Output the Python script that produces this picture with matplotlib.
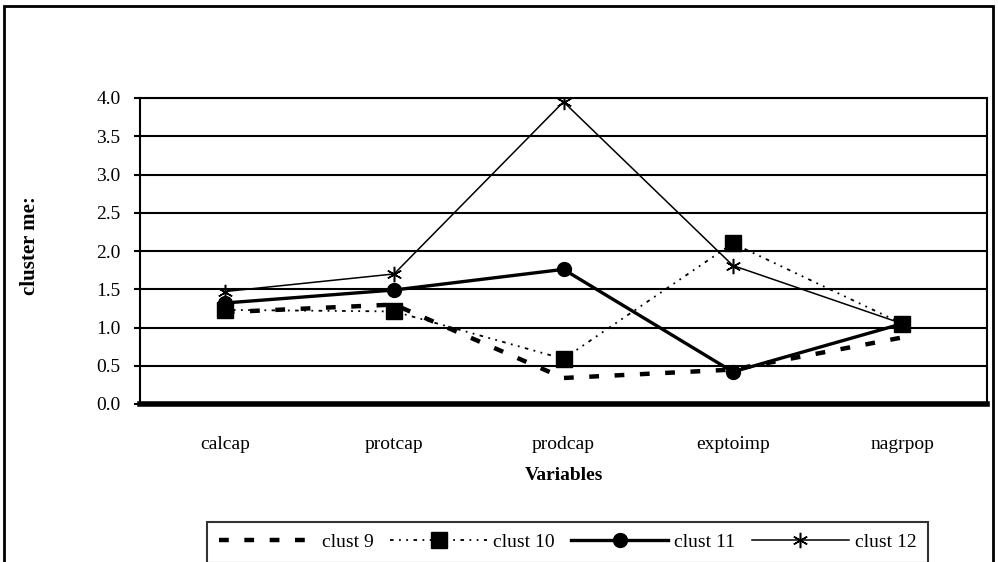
import matplotlib
matplotlib.use("Agg")
import matplotlib.pyplot as plt
from matplotlib.patches import Rectangle

plt.rcParams['font.family'] = ['Liberation Serif', 'DejaVu Serif']

variables = ["calcap", "protcap", "prodcap", "exptoimp", "nagrpop"]
clust9 = [1.20, 1.30, 0.34, 0.45, 0.87]
clust10 = [1.23, 1.21, 0.59, 2.10, 1.05]
clust11 = [1.32, 1.49, 1.76, 0.42, 1.05]
clust12 = [1.47, 1.70, 3.95, 1.81, 1.05]
yticks = [0.0, 0.5, 1.0, 1.5, 2.0, 2.5, 3.0, 3.5, 4.0]

W, H = 998, 562
FS = 14
fig = plt.figure(figsize=(W / 100, H / 100), dpi=100)
ax = fig.add_axes([140 / W, 1 - 404 / H, 847 / W, 306 / H])

x = list(range(len(variables)))
ax.plot(x, clust9, color='black', lw=3.2, linestyle=(0, (2.2, 3.5)), label='clust 9', zorder=3)
ax.plot(x, clust10, color='black', lw=1.3, linestyle=(0, (2, 3, 1, 3, 1, 3)),
        marker='s', ms=11, mec='black', mfc='black', label='clust 10', zorder=3)
ax.plot(x, clust11, color='black', lw=2.4, marker='o', ms=10, label='clust 11', zorder=4)
ax.plot(x, clust12, color='black', lw=1.1, marker=(6, 2, 0), ms=11, mew=1.1,
        label='clust 12', zorder=5)

ax.set_xlim(-0.5, 4.5)
ax.set_ylim(0, 4.0)
ax.set_yticks(yticks)
ax.set_yticklabels([f"{v:.1f}" for v in yticks])
ax.set_xticks(x)
ax.set_xticklabels(variables)
ax.tick_params(axis='x', length=0, pad=23, labelsize=FS)
ax.tick_params(axis='y', length=4, width=1.5, pad=10, labelsize=FS, direction='out')
ax.yaxis.grid(True, color='black', lw=1.5)
ax.set_axisbelow(True)
for s in ['left', 'right', 'top']:
    ax.spines[s].set_linewidth(1.5)
ax.spines['bottom'].set_linewidth(4)

ax.set_xlabel("Variables", fontsize=FS, fontweight='bold', labelpad=10)
fig.text(30 / W, 1 - 246 / H, "cluster me:", rotation=90, fontsize=FS + 1,
         fontweight='bold', ha='center', va='center')

# outer frame
fig.add_artist(Rectangle((4 / W, -0.1), 989 / W, 1.1 - 6 / H, transform=fig.transFigure,
                         fill=False, lw=2, edgecolor='black'))

handles, labels = ax.get_legend_handles_labels()
leg = fig.legend(handles, labels, loc='upper left', bbox_to_anchor=(207 / W, 1 - 522 / H),
                 ncol=4, frameon=True, fancybox=False, edgecolor='black', fontsize=FS,
                 handlelength=5.0, handletextpad=0.3, columnspacing=0.85,
                 borderaxespad=0, borderpad=0.6)
leg.get_frame().set_linewidth(1.5)

fig.savefig("out.png", dpi=100)
